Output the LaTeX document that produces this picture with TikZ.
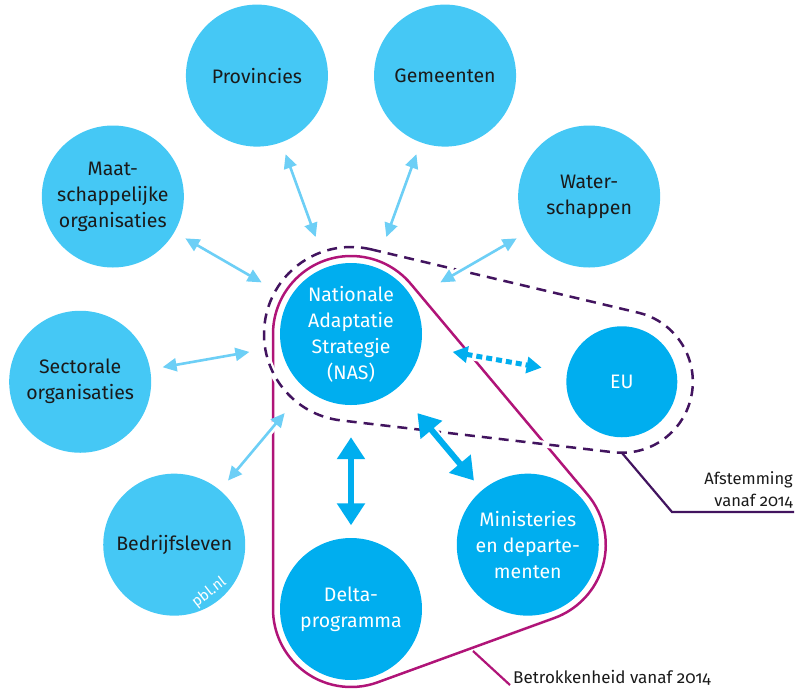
\documentclass[tikz,border=0pt]{standalone}
\usepackage{fontspec}
\setmainfont{Fira Sans}[Numbers=OldStyle]
\usetikzlibrary{arrows.meta,calc}
\definecolor{ink}{HTML}{1A1A1A}
\definecolor{outerc}{HTML}{45C8F5}
\definecolor{innerc}{HTML}{00AEEF}
\definecolor{thinarr}{HTML}{6DCFF6}
\definecolor{violet}{HTML}{42145F}
\definecolor{ruby}{HTML}{B01478}
\tikzset{
  partner/.style={circle,fill=outerc,minimum size=142pt,inner sep=0pt,align=center,
    text=ink,font=\fontsize{19.5}{26}\selectfont},
  core/.style={partner,fill=innerc,text=white},
  halo/.style={preaction={draw=white,line width=#1,solid,-}},
  link/.style={{Triangle[length=14pt,width=13pt]}-{Triangle[length=14pt,width=13pt]},
    line width=2.6pt,color=thinarr,shorten <=32pt,shorten >=12.5pt,halo=8pt},
  biglink/.style={{Triangle[length=22pt,width=27pt]}-{Triangle[length=22pt,width=27pt]},
    line width=6pt,color=innerc,shorten <=32pt,shorten >=12.5pt},
  dotlink/.style={{Triangle[length=15pt,width=16pt]}-{Triangle[length=15pt,width=16pt]},
    line width=5pt,color=innerc,dash pattern=on 6pt off 4pt,shorten <=32pt,shorten >=25.7pt,halo=10pt},
  afst/.style={draw=violet,line width=2.5pt,dash pattern=on 10pt off 7pt,halo=7pt},
  betr/.style={draw=ruby,line width=2.5pt},
  lead/.style={line width=2.2pt},
  note/.style={font=\fontsize{16.5}{22}\selectfont,text=ink,inner sep=0pt}
}
\begin{document}
\begin{tikzpicture}[x=1pt,y=-1pt]
  \useasboundingbox (0,0) rectangle (804,689);
  % centre and the ring, 40 degrees apart at 275pt
  \node[core] (nas) at (351,334) {Nationale\\Adaptatie\\Strategie\\(NAS)};
  \node[core,minimum size=111pt] (eu) at ($(nas)+(10:275)$) {EU};
  \node[core] (min) at ($(nas)+(50:275)$) {Ministeries\\en departe-\\menten};
  \node[core] (delta) at ($(nas)+(90:275)$) {Delta-\\programma};
  \foreach \ang/\nm/\txt in {130/bedr/Bedrijfsleven,170/sect/{Sectorale\\organisaties},
      210/maat/{Maat-\\schappelijke\\organisaties},250/prov/Provincies,
      290/gem/Gemeenten,330/water/{Water-\\schappen}}{%
    \node[partner] (\nm) at ($(nas)+(\ang:275)$) {\txt};}
  \node[rotate=38,text=white,inner sep=0pt,font=\fontsize{15}{15}\selectfont] (pbl) at ($(bedr)+(35,48)$) {pbl.nl};
  % involvement outline
  \draw[betr] ($(nas)+(180:78)$) arc[start angle=180,end angle=320,radius=78]
    -- ($(min)+(-40:78)$) arc[start angle=-40,end angle=70,radius=78]
    -- ($(delta)+(70:78)$) arc[start angle=70,end angle=180,radius=78] -- cycle;
  % coordination outline
  \draw[afst] ($(nas)+(-76.66:87)$) -- ($(eu)+(-76.66:71)$)
    arc[start angle=-76.66,end angle=96.66,radius=71]
    -- ($(nas)+(96.66:87)$) arc[start angle=96.66,end angle=283.34,radius=87] -- cycle;
  % links
  \foreach \nm in {bedr,sect,maat,prov,gem,water}{%
    \draw[link] (nas) -- (\nm);}
  \draw[biglink] (nas) -- (delta);
  \draw[biglink,halo=10pt] (nas) -- (min);
  \draw[dotlink] (nas) -- (eu);
  % labels
  \node[note,align=right,anchor=south east] (afsttxt) at (793,508) {Afstemming\\vanaf 2014};
  \coordinate (hookd) at ($(eu)+(90:71)$);
  \coordinate (kneed) at (672,512);
  \draw[lead,violet] (hookd) -- (kneed) -- ([xshift=1]kneed -| afsttxt.east);
  \node[note,font=\fontsize{17}{22}\selectfont,anchor=base west] (betrtxt) at (513,683) {Betrokkenheid vanaf 2014};
  \coordinate (hookb) at (473,651);
  \draw[lead,ruby] (hookb) -- ([xshift=-3]betrtxt.south west);
\end{tikzpicture}
\end{document}
